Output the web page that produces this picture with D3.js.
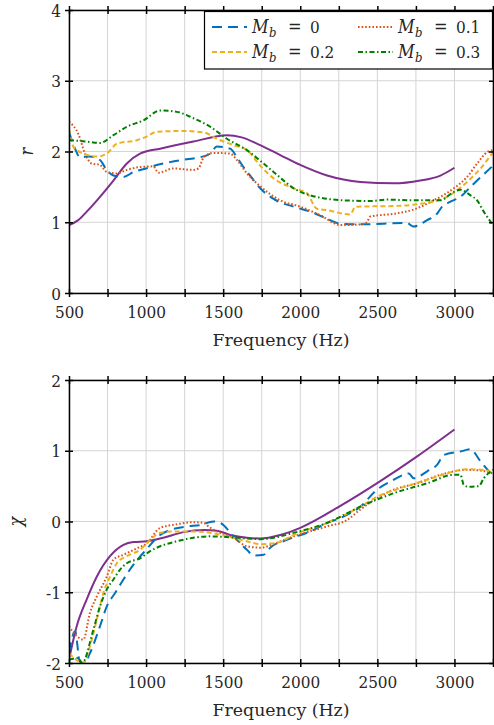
<!DOCTYPE html>
<html>
<head>
<meta charset="utf-8">
<script src="https://cdn.jsdelivr.net/npm/d3@7"></script>
<style>
  body { margin: 0; background: #fff; }
</style>
</head>
<body>
<svg id="chart" width="494" height="725"></svg>
<script>
// frequency ticks shared by both panels
const freqDomain = [500, 3250];
const freqLabels = [500, 1000, 1500, 2000, 2500, 3000];
const freqGrid = d3.range(500, 3251, 250);

const rTicks = [0, 1, 2, 3, 4];
const chiTicks = [-2, -1, 0, 1, 2];

// resistance r, [Hz, value]
const rModel = [[500,0.96],[560,1.03],[615,1.15],[701,1.36],[788,1.59],[875,1.83],[961,1.97],[1091,2.04],[1307,2.14],[1524,2.23],[1620,2.20],[1740,2.09],[1870,1.95],[2000,1.81],[2174,1.66],[2390,1.57],[2606,1.55],[2779,1.59],[2909,1.66],[3000,1.77]];
const rM0 = [[500,2.28],[539,2.04],[571,1.92],[636,1.93],[701,1.88],[745,1.74],[788,1.66],[853,1.64],[918,1.71],[1000,1.76],[1069,1.81],[1156,1.85],[1264,1.89],[1351,1.92],[1416,1.97],[1459,2.07],[1545,2.04],[1589,1.92],[1632,1.78],[1675,1.66],[1740,1.48],[1827,1.33],[1957,1.22],[2065,1.15],[2174,1.05],[2260,0.98],[2390,0.97],[2691,0.99],[2734,0.94],[2823,1.03],[2887,1.12],[2920,1.22],[2974,1.29],[3039,1.36],[3104,1.50],[3147,1.59],[3250,1.80]];
const rM1 = [[500,2.42],[560,2.25],[604,1.97],[647,1.83],[701,1.81],[745,1.71],[810,1.69],[875,1.74],[961,1.78],[1047,1.79],[1080,1.70],[1177,1.76],[1307,1.74],[1340,1.76],[1374,1.92],[1437,1.98],[1545,1.97],[1589,1.88],[1654,1.69],[1740,1.51],[1870,1.31],[2000,1.22],[2130,1.10],[2260,0.96],[2390,0.97],[2432,1.00],[2454,1.08],[2606,1.12],[2736,1.18],[2866,1.31],[2996,1.48],[3082,1.64],[3147,1.83],[3212,1.99],[3250,2.02]];
const rM2 = [[500,2.32],[528,2.07],[593,1.97],[680,1.93],[745,1.97],[810,2.11],[940,2.16],[1004,2.21],[1069,2.28],[1242,2.29],[1374,2.27],[1459,2.18],[1567,2.09],[1654,2.02],[1740,1.80],[1827,1.62],[1957,1.48],[2043,1.41],[2108,1.19],[2174,1.17],[2325,1.11],[2357,1.22],[2606,1.23],[2779,1.26],[2952,1.36],[3082,1.57],[3169,1.76],[3250,1.99]];
const rM3 = [[500,2.16],[615,2.14],[701,2.12],[788,2.23],[875,2.35],[983,2.44],[1091,2.58],[1199,2.56],[1307,2.47],[1416,2.35],[1524,2.18],[1654,2.02],[1740,1.87],[1849,1.67],[1957,1.48],[2065,1.38],[2281,1.31],[2454,1.30],[2562,1.32],[2736,1.31],[2909,1.31],[2996,1.43],[3039,1.46],[3104,1.38],[3147,1.31],[3190,1.15],[3250,0.96]];

// reactance chi, [Hz, value]
const chiModel = [[500,-1.95],[550,-1.48],[615,-1.10],[680,-0.78],[766,-0.49],[853,-0.33],[918,-0.29],[1004,-0.28],[1112,-0.23],[1242,-0.15],[1374,-0.12],[1459,-0.13],[1545,-0.19],[1654,-0.23],[1740,-0.24],[1870,-0.19],[2000,-0.09],[2260,0.22],[2519,0.57],[2758,0.92],[3000,1.30]];
const chiM0 = [[500,-1.85],[540,-1.55],[570,-1.98],[600,-2.0],[636,-1.86],[701,-1.48],[745,-1.20],[799,-1.01],[853,-0.82],[918,-0.61],[1000,-0.40],[1091,-0.19],[1156,-0.12],[1264,-0.07],[1351,-0.05],[1437,0.00],[1481,-0.02],[1567,-0.21],[1654,-0.40],[1697,-0.48],[1762,-0.47],[1805,-0.37],[1913,-0.26],[2065,-0.14],[2174,-0.02],[2260,0.05],[2390,0.21],[2498,0.45],[2606,0.59],[2704,0.68],[2736,0.61],[2823,0.71],[2887,0.80],[2931,0.94],[3039,0.99],[3104,1.02],[3169,0.85],[3250,0.64]];
const chiM1 = [[500,-1.48],[550,-1.62],[593,-1.67],[636,-1.29],[680,-1.06],[745,-0.78],[788,-0.54],[853,-0.47],[940,-0.38],[1004,-0.31],[1091,-0.09],[1199,-0.04],[1307,-0.01],[1374,-0.02],[1405,-0.07],[1459,-0.14],[1567,-0.23],[1654,-0.35],[1740,-0.37],[1849,-0.30],[1957,-0.21],[2174,-0.07],[2303,0.02],[2390,0.17],[2498,0.33],[2606,0.45],[2758,0.54],[2909,0.66],[3082,0.73],[3169,0.72],[3250,0.68]];
const chiM2 = [[500,-1.86],[593,-2.0],[636,-1.76],[680,-1.39],[723,-1.01],[766,-0.78],[810,-0.59],[875,-0.49],[961,-0.40],[1026,-0.26],[1091,-0.16],[1177,-0.14],[1307,-0.14],[1416,-0.16],[1524,-0.21],[1654,-0.28],[1740,-0.32],[1849,-0.30],[1957,-0.19],[2174,-0.02],[2390,0.21],[2498,0.35],[2649,0.47],[2823,0.59],[2952,0.68],[3082,0.74],[3212,0.72],[3250,0.68]];
const chiM3 = [[500,-1.95],[560,-1.93],[585,-2.0],[658,-1.53],[701,-1.20],[745,-0.96],[788,-0.82],[831,-0.68],[875,-0.59],[961,-0.52],[1026,-0.42],[1091,-0.35],[1199,-0.28],[1307,-0.23],[1416,-0.21],[1524,-0.22],[1654,-0.24],[1740,-0.25],[1849,-0.22],[1957,-0.16],[2174,-0.02],[2390,0.21],[2606,0.40],[2823,0.54],[2996,0.66],[3039,0.66],[3060,0.52],[3093,0.49],[3158,0.50],[3190,0.61],[3250,0.73]];

const legendLabels = ["0", "0.1", "0.2", "0.3"];

// line styles per series (model curve last, no legend entry)
const styles = [
  { color: "#0072BD", dash: "10,6" },
  { color: "#D95319", dash: "1.6,2" },
  { color: "#EDB120", dash: "5,3" },
  { color: "#008000", dash: "5,2.5,1.5,2.5" },
  { color: "#7E2F8E", dash: null }
];

const serif = "'DejaVu Serif Condensed', 'DejaVu Serif', serif";
const fs = 17;

const svg = d3.select("#chart")
    .style("font-family", serif);
const left = 69, right = 493;

const x = d3.scaleLinear().domain(freqDomain).range([left, right]);

function panel(id, top, bottom, yDomain, yTicks, yLabel, labelX, series) {
  const y = d3.scaleLinear().domain(yDomain).range([bottom, top]);
  const g = svg.append("g");

  g.append("clipPath")
      .attr("id", id)
    .append("rect")
      .attr("x", left)
      .attr("y", top)
      .attr("width", right - left)
      .attr("height", bottom - top);

  // grid
  g.append("g")
    .selectAll("line")
    .data(freqGrid)
    .join("line")
      .attr("x1", d => x(d)).attr("x2", d => x(d))
      .attr("y1", top).attr("y2", bottom)
      .attr("stroke", "#d4d4d4")
      .attr("stroke-width", 1);

  g.append("g")
    .selectAll("line")
    .data(yTicks)
    .join("line")
      .attr("x1", left).attr("x2", right)
      .attr("y1", d => y(d)).attr("y2", d => y(d))
      .attr("stroke", "#d4d4d4")
      .attr("stroke-width", 1);

  // curves
  const line = d3.line()
      .x(d => x(d[0]))
      .y(d => y(d[1]))
      .curve(d3.curveMonotoneX);

  const order = [4, 0, 1, 2, 3];
  g.append("g")
      .attr("clip-path", `url(#${id})`)
    .selectAll("path")
    .data(order)
    .join("path")
      .attr("d", i => line(series[i]))
      .attr("fill", "none")
      .attr("stroke", i => styles[i].color)
      .attr("stroke-width", 2)
      .attr("stroke-dasharray", i => styles[i].dash);

  // axes box with ticks on all four sides
  const axes = [
    d3.axisBottom(x).tickValues(freqGrid).tickSizeInner(-4).tickSizeOuter(0)
      .tickFormat(d => freqLabels.includes(d) ? d : ""),
    d3.axisTop(x).tickValues(freqGrid).tickSizeInner(-4).tickSizeOuter(0).tickFormat(""),
    d3.axisLeft(y).tickValues(yTicks).tickSizeInner(-4).tickSizeOuter(0),
    d3.axisRight(y).tickValues(yTicks).tickSizeInner(-4).tickSizeOuter(0).tickFormat("")
  ];
  const shifts = [
    `translate(0,${bottom})`, `translate(0,${top})`,
    `translate(${left},0)`, `translate(${right},0)`
  ];

  axes.forEach((axis, k) => {
    const a = g.append("g")
        .attr("transform", shifts[k])
        .call(axis)
        .attr("font-size", fs)
        .style("font-family", serif);
    a.select(".domain").attr("stroke", "#000").attr("stroke-width", 1.5);
    a.selectAll(".tick line")
        .attr("stroke", "#000")
        .attr("stroke-width", 1.5)
        .attr(k < 2 ? "y1" : "x1", k === 0 || k === 3 ? 4 : -4);
    a.selectAll(".tick text").attr("fill", "#262626");
    if (k === 0) a.selectAll(".tick text").attr("dy", null).attr("y", 25);
    if (k === 2) a.selectAll(".tick text").attr("x", -8).attr("dy", "0.36em")
        .text(d => d < 0 ? "-" + Math.abs(d) : d);
  });

  g.append("text")
      .attr("x", (left + right) / 2)
      .attr("y", bottom + 53)
      .attr("text-anchor", "middle")
      .attr("font-size", fs)
      .attr("fill", "#262626")
      .attr("textLength", 137)
      .attr("lengthAdjust", "spacingAndGlyphs")
      .text("Frequency (Hz)");

  g.append("text")
      .attr("transform", `translate(${labelX},${(top + bottom) / 2}) rotate(-90)`)
      .attr("text-anchor", "middle")
      .attr("font-size", 18)
      .attr("font-style", "italic")
      .attr("fill", "#262626")
      .text(yLabel);
}

panel("clipTop", 10, 293, [0, 4], rTicks, "r", 33, [rM0, rM1, rM2, rM3, rModel]);
panel("clipBot", 380, 663, [-2, 2], chiTicks, "χ", 22, [chiM0, chiM1, chiM2, chiM3, chiModel]);

// legend
const legend = svg.append("g");
legend.append("rect")
    .attr("x", 204.5)
    .attr("y", 11.5)
    .attr("width", 288)
    .attr("height", 57.5)
    .attr("fill", "#fff")
    .attr("stroke", "#000")
    .attr("stroke-width", 1.2);

const item = legend.selectAll("g.item")
  .data(legendLabels)
  .join("g")
    .attr("class", "item")
    .attr("transform", (d, i) => `translate(${i % 2 ? 358 : 212},${i < 2 ? 27 : 52})`);

item.append("line")
    .attr("x1", 0).attr("x2", 35)
    .attr("stroke", (d, i) => styles[i].color)
    .attr("stroke-width", 2)
    .attr("stroke-dasharray", (d, i) => styles[i].dash);

// M_b = value, pieces placed like the LaTeX spacing
item.append("text")
    .attr("x", 40).attr("y", 6)
    .attr("font-size", 18)
    .attr("font-style", "italic")
    .attr("fill", "#262626")
    .text("M");
item.append("text")
    .attr("x", 57).attr("y", 10)
    .attr("font-size", 13)
    .attr("font-style", "italic")
    .attr("fill", "#262626")
    .text("b");
item.append("text")
    .attr("x", 76).attr("y", 6)
    .attr("font-size", 18)
    .attr("fill", "#262626")
    .text("=");
item.append("text")
    .attr("x", 98).attr("y", 6)
    .attr("font-size", fs)
    .attr("fill", "#262626")
    .text(d => d);
</script>
</body>
</html>
